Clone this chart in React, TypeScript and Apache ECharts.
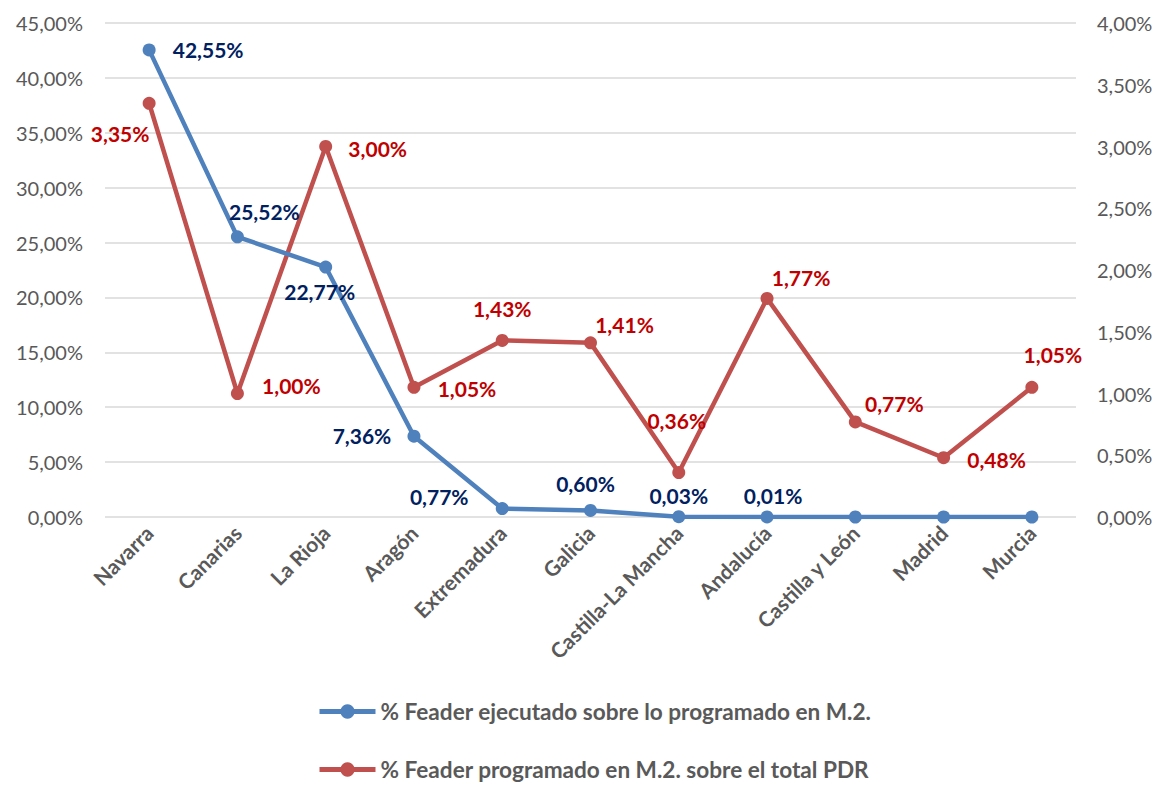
import React, { useEffect, useRef } from "react";
import * as echarts from "echarts";

const categories = ["Navarra", "Canarias", "La Rioja", "Aragón", "Extremadura", "Galicia", "Castilla-La Mancha", "Andalucía", "Castilla y León", "Madrid", "Murcia"];
const ejecutado = [42.55, 25.52, 22.77, 7.36, 0.77, 0.6, 0.03, 0.01, 0, 0, 0];
const programado = [3.35, 1.0, 3.0, 1.05, 1.43, 1.41, 0.36, 1.77, 0.77, 0.48, 1.05];
const showEjecutadoLabel = [true, true, true, true, true, true, true, true, false, false, false];
const ejecutadoLabelOffsets = [[59, 0], [27, -25], [-6, 24], [-52, -1], [-63, -12], [-5, -27], [0, -21], [6, -21], [0, 0], [0, 0], [0, 0]];
const programadoLabelOffsets = [[-29, 30], [54, -8], [52, 2], [53, 1], [0, -32], [34, -18], [-2, -52], [34, -21], [39, -18], [53, 2], [21, -33]];

const seriesNames = ["% Feader ejecutado sobre lo programado en M.2.", "% Feader programado en M.2. sobre el total PDR"];

const FONT = "Lato, 'Open Sans', sans-serif";
const fmt = (v: number) => v.toFixed(2).replace(".", ",") + "%";

const legendText = { fontFamily: FONT, fontSize: 22.6, fontWeight: "bold", color: "#595959" };

export default function App() {
  const ref = useRef<HTMLDivElement>(null);
  useEffect(() => {
    const chart = echarts.init(ref.current!, null, { renderer: "svg" });
    const legendBase = {
      left: 317,
      padding: 0,
      itemWidth: 56,
      itemHeight: 18,
      itemGap: 0,
      lineStyle: { width: 5 },
      textStyle: legendText,
    };
    chart.setOption({
      animation: false,
      textStyle: { fontFamily: FONT },
      grid: { left: 105, right: 87, top: 23, bottom: 269, containLabel: false },
      legend: [
        { ...legendBase, top: 700, data: [seriesNames[0]] },
        { ...legendBase, top: 758, data: [seriesNames[1]] },
      ],
      xAxis: {
        type: "category",
        data: categories,
        boundaryGap: true,
        axisLine: { show: false },
        axisTick: { show: false },
        axisLabel: { rotate: 45, fontSize: 21, fontWeight: "bold", color: "#595959", fontFamily: FONT, margin: 12, interval: 0 },
      },
      yAxis: [
        {
          type: "value",
          min: 0,
          max: 45,
          interval: 5,
          axisLine: { show: false },
          axisTick: { show: false },
          splitLine: { lineStyle: { color: "#d9d9d9", width: 1.5 } },
          axisLabel: { fontSize: 20, color: "#595959", fontFamily: FONT, margin: 22, formatter: fmt },
        },
        {
          type: "value",
          min: 0,
          max: 4,
          interval: 0.5,
          axisLine: { show: false },
          axisTick: { show: false },
          splitLine: { show: false },
          axisLabel: { fontSize: 20, color: "#595959", fontFamily: FONT, margin: 21, formatter: fmt },
        },
      ],
      series: [
        {
          name: seriesNames[0],
          type: "line",
          yAxisIndex: 0,
          symbol: "circle",
          symbolSize: 13,
          lineStyle: { color: "#4F81BD", width: 4.5 },
          itemStyle: { color: "#4F81BD" },
          data: ejecutado.map((v, i) => ({
            value: v,
            label: {
              show: showEjecutadoLabel[i],
              position: "inside",
              offset: ejecutadoLabelOffsets[i],
              align: "center",
              verticalAlign: "middle",
              formatter: () => fmt(v),
              color: "#002060",
              fontSize: 21,
              fontWeight: "bold",
              fontFamily: FONT,
            },
          })),
          z: 3,
        },
        {
          name: seriesNames[1],
          type: "line",
          yAxisIndex: 1,
          symbol: "circle",
          symbolSize: 13,
          lineStyle: { color: "#C0504D", width: 4.5 },
          itemStyle: { color: "#C0504D" },
          data: programado.map((v, i) => ({
            value: v,
            label: {
              show: true,
              position: "inside",
              offset: programadoLabelOffsets[i],
              align: "center",
              verticalAlign: "middle",
              formatter: () => fmt(v),
              color: "#C00000",
              fontSize: 21,
              fontWeight: "bold",
              fontFamily: FONT,
            },
          })),
          z: 2,
        },
      ],
    });
    return () => chart.dispose();
  }, []);
  return <div ref={ref} style={{ position: "absolute", left: 0, top: 0, width: 1163, height: 786 }} />;
}
